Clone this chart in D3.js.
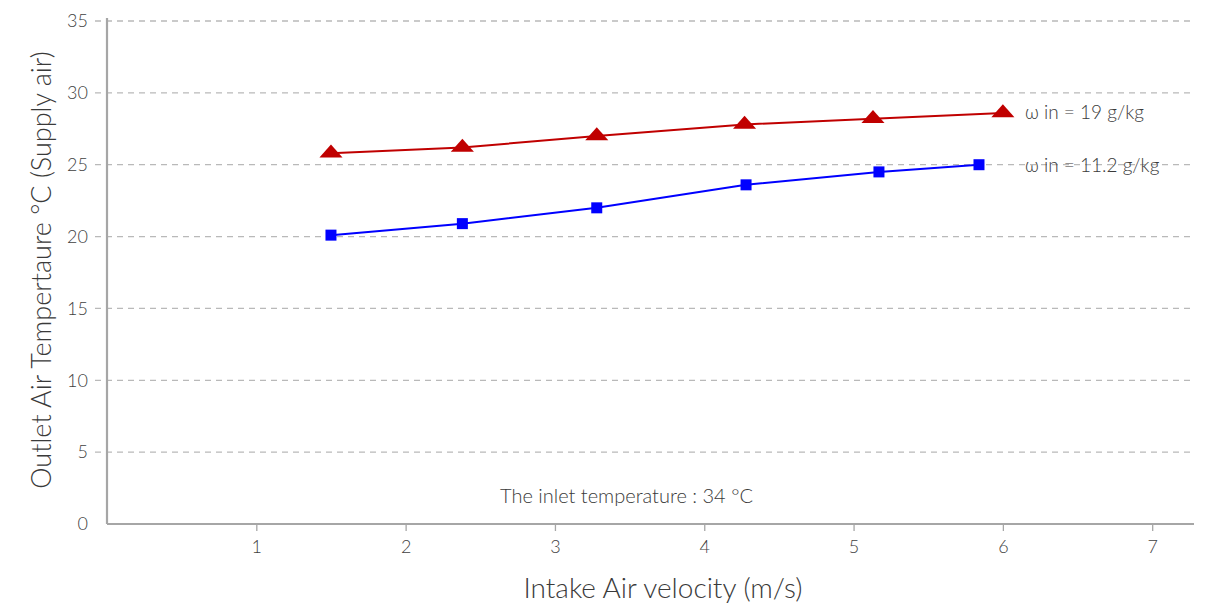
<!DOCTYPE html>
<html>
<head>
<meta charset="utf-8">
<script src="https://cdn.jsdelivr.net/npm/d3@7/dist/d3.min.js"></script>
<style>
  html, body { margin: 0; padding: 0; background: #fff; }
  svg text { font-family: Lato, "Open Sans", sans-serif; font-weight: 300; fill: #3a3a3a; }
</style>
</head>
<body>
<svg id="chart" width="1210" height="605"></svg>
<script>
// Intake air velocity (m/s) and outlet air temperature (°C) for two inlet humidity ratios
const velocityHigh = [1.5, 2.38, 3.28, 4.27, 5.13, 6.0];
const tempHigh     = [25.8, 26.2, 27.0, 27.8, 28.2, 28.6];   // ω in = 19 g/kg
const velocityLow  = [1.5, 2.38, 3.28, 4.28, 5.17, 5.84];
const tempLow      = [20.1, 20.9, 22.0, 23.6, 24.5, 25.0];   // ω in = 11.2 g/kg

const xTicks = [1, 2, 3, 4, 5, 6, 7];
const yTicks = [0, 5, 10, 15, 20, 25, 30, 35];

const seriesLabels = ["ω in = 19 g/kg", "ω in = 11.2 g/kg"];
const noteText = "The inlet temperature : 34 °C";
const xTitle = "Intake Air velocity (m/s)";
const yTitle = "Outlet Air Tempertaure °C (Supply air)";

const svg = d3.select("#chart");

const x = d3.scaleLinear().domain([0, 7.28]).range([107, 1194]);
const y = d3.scaleLinear().domain([0, 35]).range([524, 21]);

// horizontal dashed grid
svg.append("g")
  .selectAll("line")
  .data(yTicks.filter(d => d > 0))
  .join("line")
  .attr("x1", 95).attr("x2", 1195)
  .attr("y1", d => y(d)).attr("y2", d => y(d))
  .attr("stroke", "#b9b9b9")
  .attr("stroke-width", 1.3)
  .attr("stroke-dasharray", "6,5");

// y axis
const yAxis = svg.append("g")
  .attr("transform", `translate(${x(0)},0)`)
  .call(d3.axisLeft(y).tickValues(yTicks).tickSize(0).tickPadding(19));
yAxis.select(".domain").attr("stroke", "#a6a6a6").attr("stroke-width", 2.2)
  .attr("d", `M0,${y(0)}V18`);
yAxis.selectAll("text").attr("font-size", 18).style("fill", "#3f3f3f");

// x axis
const xAxis = svg.append("g")
  .attr("transform", `translate(0,${y(0)})`)
  .call(d3.axisBottom(x).tickValues(xTicks).tickSize(7).tickPadding(9));
xAxis.select(".domain").attr("stroke", "#a6a6a6").attr("stroke-width", 2.2)
  .attr("d", `M${x(0)},0H1194`);
xAxis.selectAll(".tick line").attr("stroke", "#a6a6a6").attr("stroke-width", 1.3);
xAxis.selectAll("text").attr("font-size", 18).style("fill", "#3f3f3f");

// axis titles
svg.append("text")
  .attr("x", 663).attr("y", 598)
  .attr("text-anchor", "middle")
  .attr("font-size", 28)
  .text(xTitle);

svg.append("text")
  .attr("transform", "translate(51,270) rotate(-90)")
  .attr("text-anchor", "middle")
  .attr("font-size", 27)
  .text(yTitle);

const line = d3.line().x(d => x(d[0])).y(d => y(d[1]));

// ω in = 19 g/kg : red triangles
const high = d3.zip(velocityHigh, tempHigh);
svg.append("path").datum(high)
  .attr("d", line).attr("fill", "none")
  .attr("stroke", "#c00000").attr("stroke-width", 2);
svg.append("g").selectAll("path")
  .data(high).join("path")
  .attr("d", d3.symbol().type(d3.symbolTriangle).size(110))
  .attr("transform", d => `translate(${x(d[0])},${y(d[1])}) scale(1.45,0.95)`)
  .attr("fill", "#c00000");

// ω in = 11.2 g/kg : blue squares
const low = d3.zip(velocityLow, tempLow);
svg.append("path").datum(low)
  .attr("d", line).attr("fill", "none")
  .attr("stroke", "#0000ff").attr("stroke-width", 2);
svg.append("g").selectAll("rect")
  .data(low).join("rect")
  .attr("x", d => x(d[0]) - 5.5).attr("y", d => y(d[1]) - 5.5)
  .attr("width", 11).attr("height", 11)
  .attr("fill", "#0000ff");

// series labels
svg.append("text")
  .attr("x", 1025).attr("y", 119)
  .attr("font-size", 19)
  .text(seriesLabels[0]);
svg.append("text")
  .attr("x", 1025).attr("y", y(25) + 7)
  .attr("font-size", 19)
  .text(seriesLabels[1]);

// inlet temperature note
svg.append("text")
  .attr("x", 500).attr("y", 503)
  .attr("font-size", 20)
  .text(noteText);
</script>
</body>
</html>
